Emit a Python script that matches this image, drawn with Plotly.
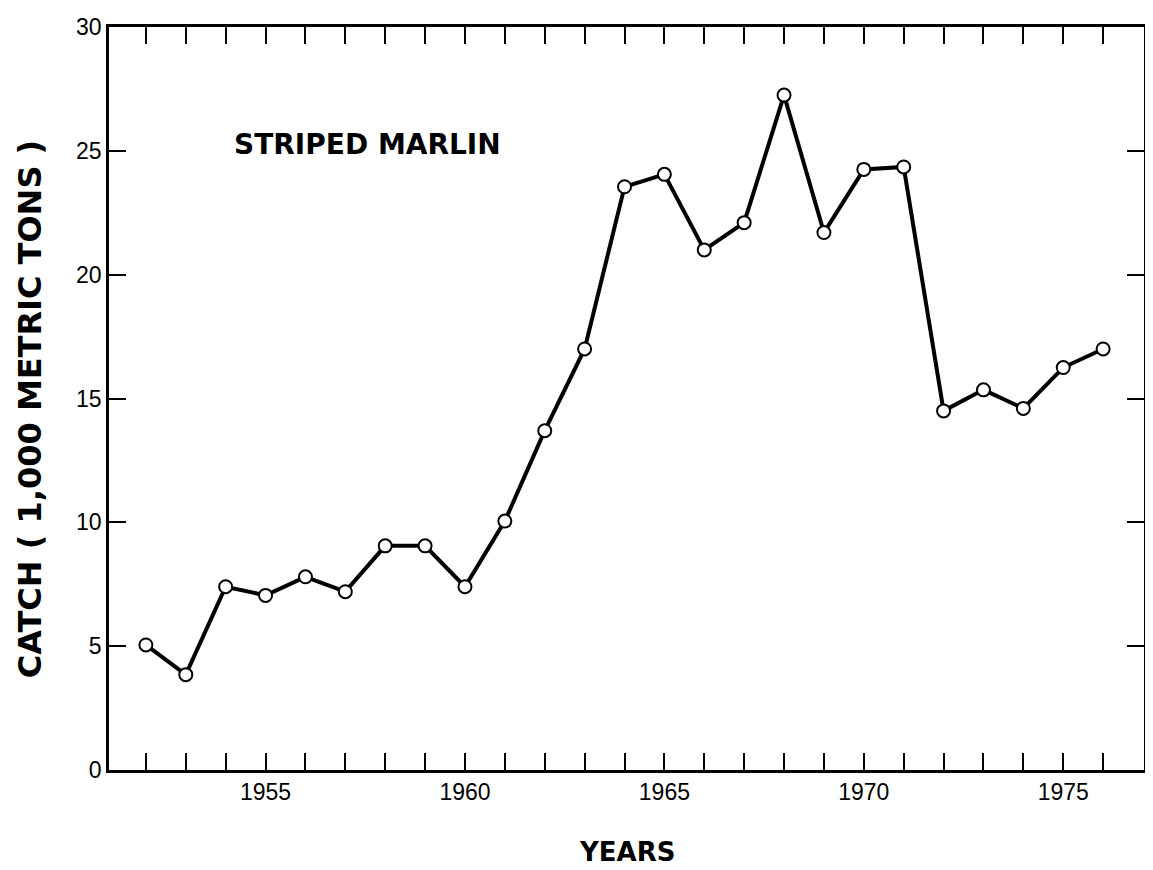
import plotly.graph_objects as go

years = [1952, 1953, 1954, 1955, 1956, 1957, 1958, 1959, 1960, 1961, 1962, 1963,
         1964, 1965, 1966, 1967, 1968, 1969, 1970, 1971, 1972, 1973, 1974, 1975, 1976]
catch = [5.05, 3.85, 7.4, 7.05, 7.8, 7.2, 9.05, 9.05, 7.4, 10.05, 13.7, 17.0,
         23.55, 24.05, 21.0, 22.1, 27.25, 21.7, 24.25, 24.35, 14.5, 15.35, 14.6, 16.25, 17.0]

x_tick_vals = list(range(1952, 1977))
x_tick_text = [str(y) if y % 5 == 0 else "" for y in x_tick_vals]
y_tick_vals = [0, 5, 10, 15, 20, 25, 30]
y_tick_text = ["0", "5", "10", "15", "20", "25", "30"]

series_name = "STRIPED MARLIN"
x_title = "YEARS"
y_title = "CATCH ( 1,000 METRIC TONS )"

TICK_FONT = "Liberation Sans"
LABEL_FONT = "DejaVu Sans"

fig = go.Figure()
fig.add_trace(go.Scatter(
    x=years, y=catch, mode="lines+markers", name=series_name,
    line=dict(color="black", width=4),
    marker=dict(symbol="circle", size=13, color="white",
                line=dict(color="black", width=2)),
    showlegend=False, cliponaxis=False,
))

fig.update_layout(
    # page body adds an 8px margin, so the figure is 8px smaller on each axis
    width=1145, height=862,
    margin=dict(l=101, r=6, t=14, b=100),
    paper_bgcolor="white", plot_bgcolor="white",
    font=dict(family=TICK_FONT, color="black"),
    xaxis=dict(
        range=[1951.075, 1977.025], tickmode="array",
        tickvals=x_tick_vals, ticktext=x_tick_text,
        ticks="inside", ticklen=17, tickwidth=2, tickcolor="black",
        showline=True, linecolor="black", linewidth=2.5, mirror="ticks",
        showgrid=False, zeroline=False,
        tickfont=dict(size=23, family=TICK_FONT), ticklabelstandoff=0,
    ),
    yaxis=dict(
        range=[0, 30], tickmode="array",
        tickvals=y_tick_vals, ticktext=y_tick_text,
        ticks="inside", ticklen=17, tickwidth=2, tickcolor="black",
        showline=True, linecolor="black", linewidth=2.5, mirror="ticks",
        showgrid=False, zeroline=False,
        tickfont=dict(size=23, family=TICK_FONT), ticklabelstandoff=0,
    ),
    annotations=[
        dict(text="<b>" + series_name + "</b>", x=1954.15, y=25.25, xref="x", yref="y",
             xanchor="left", yanchor="middle", showarrow=False,
             font=dict(size=28, family=LABEL_FONT, color="black")),
        dict(text="<b>" + x_title + "</b>", x=0.5, y=-0.111, xref="paper", yref="paper",
             xanchor="center", yanchor="middle", showarrow=False,
             font=dict(size=26, family=LABEL_FONT, color="black")),
        dict(text="<b>" + y_title + "</b>", x=-0.076, y=0.486, xref="paper", yref="paper",
             xanchor="center", yanchor="middle", showarrow=False, textangle=-90,
             font=dict(size=32, family=LABEL_FONT, color="black")),
    ],
)

fig.write_html("out.html")
